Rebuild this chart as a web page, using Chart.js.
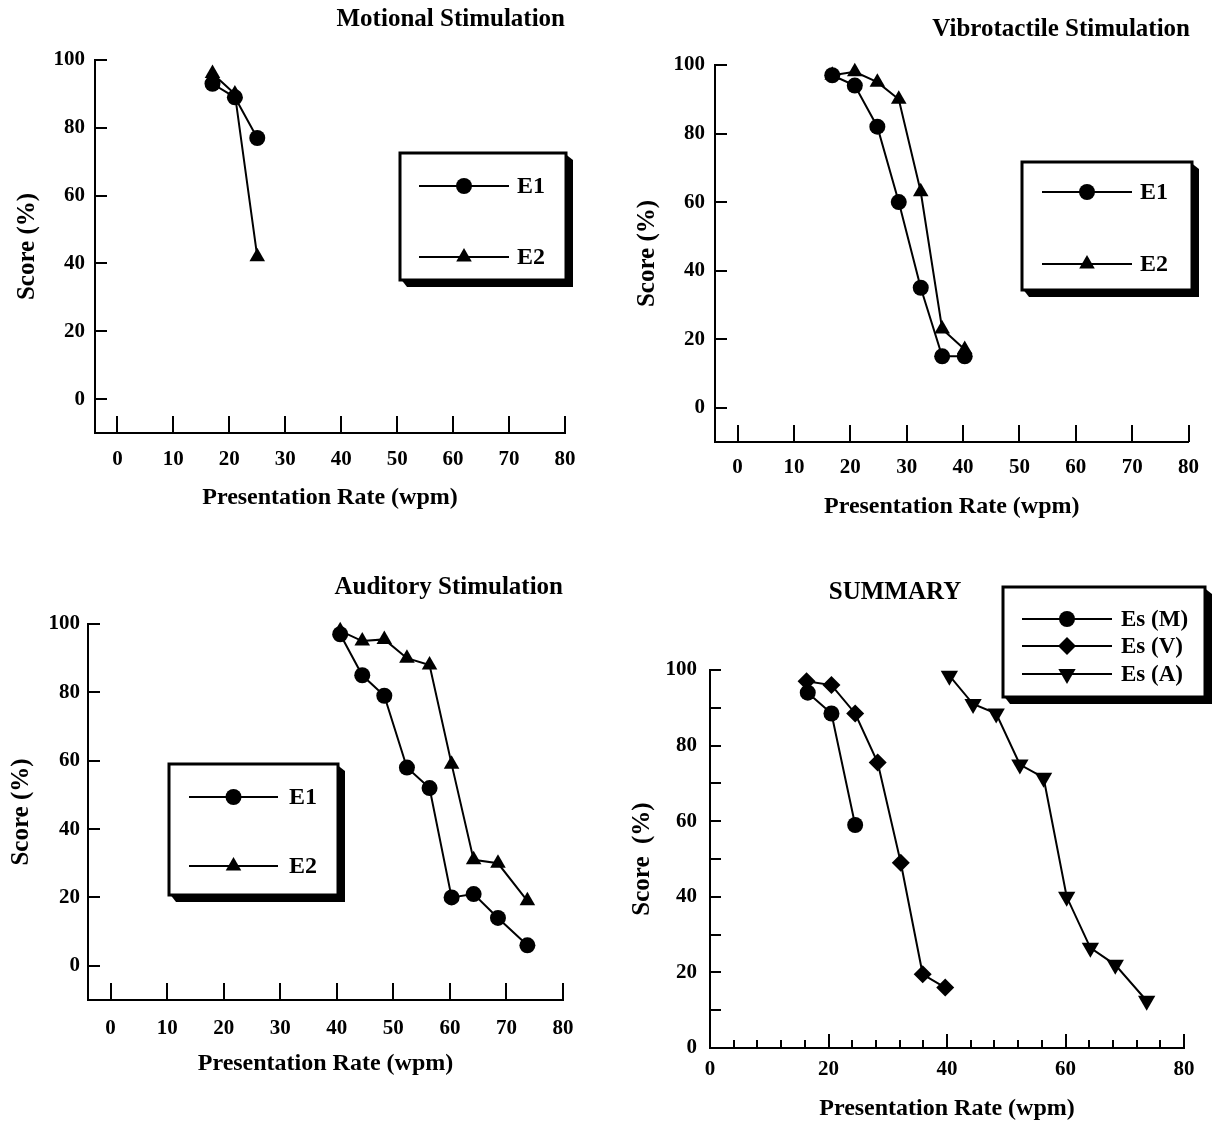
<!DOCTYPE html>
<html>
<head>
<meta charset="utf-8">
<script src="https://cdn.jsdelivr.net/npm/chart.js@4.4.1/dist/chart.umd.min.js"></script>
<style>
  html, body { margin: 0; padding: 0; background: #fff; }
  #wrap { position: relative; width: 1212px; height: 1125px; }
  canvas { position: absolute; }
</style>
</head>
<body>
<div id="wrap">
  <canvas id="c1" width="606" height="560" style="left:0;top:0"></canvas>
  <canvas id="c2" width="606" height="560" style="left:606px;top:0"></canvas>
  <canvas id="c3" width="606" height="565" style="left:0;top:560px"></canvas>
  <canvas id="c4" width="606" height="565" style="left:606px;top:560px"></canvas>
</div>
<script>
// ---- data ----
const motionalRate = [17, 21, 25];
const motionalE1 = [93, 89, 77];
const motionalE2 = [96, 90, 42];

const vibroRate = [16.8, 20.8, 24.8, 28.6, 32.5, 36.3, 40.3];
const vibroE1 = [97, 94, 82, 60, 35, 15, 15];
const vibroE2 = [97, 98, 95, 90, 63, 23, 17];

const auditoryRate = [40.6, 44.5, 48.4, 52.4, 56.4, 60.3, 64.2, 68.5, 73.7];
const auditoryE1 = [97, 85, 79, 58, 52, 20, 21, 14, 6];
const auditoryE2 = [98, 95, 95.5, 90, 88, 59, 31, 30, 19];

const summaryRateM = [16.5, 20.5, 24.5];
const summaryM = [94, 88.5, 59];
const summaryRateV = [16.3, 20.5, 24.5, 28.3, 32.2, 35.9, 39.7];
const summaryV = [97, 96, 88.5, 75.5, 49, 19.5, 16];
const summaryRateA = [40.4, 44.4, 48.3, 52.3, 56.3, 60.2, 64.2, 68.4, 73.7];
const summaryA = [98.5, 91, 88.5, 75, 71.5, 40, 26.5, 22, 12.5];

const scoreTicks = [0, 20, 40, 60, 80, 100];
const rateTicks = [0, 10, 20, 30, 40, 50, 60, 70, 80];
const summaryScoreTicks = [0, 10, 20, 30, 40, 50, 60, 70, 80, 90, 100];
const summaryRateTicks = [0, 4, 8, 12, 16, 20, 24, 28, 32, 36, 40, 44, 48, 52, 56, 60, 64, 68, 72, 76, 80];

const serif = '"Liberation Serif", "Times New Roman", serif';
Chart.defaults.font.family = serif;
Chart.defaults.font.weight = 'bold';
Chart.defaults.color = '#000';

function pts(xs, ys) {
  return xs.map((x, i) => ({x: x, y: ys[i]}));
}

function series(label, xs, ys, style, radius, rot) {
  return {
    label: label,
    data: pts(xs, ys),
    borderColor: '#000',
    backgroundColor: '#000',
    pointBackgroundColor: '#000',
    pointBorderColor: '#000',
    borderWidth: 2,
    pointBorderWidth: 0,
    pointRadius: radius,
    pointStyle: style,
    pointRotation: rot || 0,
    tension: 0,
    clip: false
  };
}

// tick marks pointing into the plot, like the original
const inwardTicks = {
  id: 'inwardTicks',
  afterDraw(chart, args, o) {
    const ctx = chart.ctx, a = chart.chartArea;
    const xs = chart.scales.x, ys = chart.scales.y;
    ctx.save();
    ctx.strokeStyle = '#000';
    ctx.lineWidth = 2;
    ctx.beginPath();
    xs.ticks.forEach(t => {
      const px = Math.round(xs.getPixelForValue(t.value));
      const len = (o.xMajor && t.value % o.xMajor !== 0) ? o.xMinorLen : o.xLen;
      ctx.moveTo(px, a.bottom);
      ctx.lineTo(px, a.bottom - len);
    });
    ys.ticks.forEach(t => {
      const py = Math.round(ys.getPixelForValue(t.value));
      ctx.moveTo(a.left, py);
      ctx.lineTo(a.left + o.yLen, py);
    });
    ctx.stroke();
    ctx.restore();
  }
};

// framed legend with a drop shadow
const boxLegend = {
  id: 'boxLegend',
  afterDraw(chart, args, o) {
    if (!o.box) return;
    const ctx = chart.ctx;
    const [x1, y1, x2, y2] = o.box;
    const s = 7;
    ctx.save();
    ctx.fillStyle = '#000';
    ctx.beginPath();
    ctx.moveTo(x2 - 2, y1);
    ctx.lineTo(x2 + s, y1 + s);
    ctx.lineTo(x2 + s, y2 + s);
    ctx.lineTo(x1 + s, y2 + s);
    ctx.lineTo(x1, y2 - 2);
    ctx.closePath();
    ctx.fill();
    ctx.fillStyle = '#fff';
    ctx.fillRect(x1, y1, x2 - x1, y2 - y1);
    ctx.lineWidth = 3;
    ctx.strokeStyle = '#000';
    ctx.strokeRect(x1, y1, x2 - x1, y2 - y1);
    chart.data.datasets.forEach((ds, i) => {
      const y = o.rows[i];
      ctx.lineWidth = 2;
      ctx.beginPath();
      ctx.moveTo(o.lineX[0], y);
      ctx.lineTo(o.lineX[1], y);
      ctx.stroke();
      ctx.fillStyle = '#000';
      Chart.helpers.drawPoint(ctx, {
        pointStyle: ds.pointStyle, rotation: ds.pointRotation || 0,
        radius: ds.pointRadius, borderWidth: 0
      }, (o.lineX[0] + o.lineX[1]) / 2, y);
      ctx.font = 'bold ' + (o.fontSize || 24) + 'px ' + serif;
      ctx.textBaseline = 'middle';
      ctx.textAlign = 'left';
      ctx.fillText(ds.label, o.textX, y + 1);
    });
    ctx.restore();
  }
};

function makeChart(id, p) {
  return new Chart(document.getElementById(id).getContext('2d'), {
    type: 'line',
    data: {datasets: p.datasets},
    plugins: [inwardTicks, boxLegend],
    options: {
      responsive: false,
      animation: false,
      layout: {padding: {left: 0, top: 0, right: p.padRight, bottom: 0}},
      plugins: {
        legend: {display: false},
        tooltip: {enabled: false},
        title: {
          display: true,
          text: p.title,
          align: p.titleAlign,
          font: {size: 25, weight: 'bold'},
          padding: {top: p.titlePad[0], bottom: p.titlePad[1]}
        },
        inwardTicks: p.ticks,
        boxLegend: p.legend
      },
      scales: {
        x: {
          type: 'linear',
          min: p.xMin, max: 80,
          afterFit: s => { s.height = p.xHeight; },
          afterBuildTicks: s => { s.ticks = p.xTicks.map(v => ({value: v})); },
          grid: {display: false, drawTicks: false},
          border: {display: true, color: '#000', width: 2},
          ticks: {
            autoSkip: false, maxRotation: 0, padding: p.xLabelPad,
            font: {size: 21, weight: 'bold'},
            callback: v => (p.xLabelEvery && v % p.xLabelEvery !== 0) ? '' : String(v)
          },
          title: {
            display: true, text: 'Presentation Rate (wpm)',
            font: {size: 24, weight: 'bold'},
            padding: {top: 0, bottom: p.xTitlePad}
          }
        },
        y: {
          type: 'linear',
          min: p.yMin, max: 100,
          afterFit: s => { s.width = p.yWidth; },
          afterBuildTicks: s => { s.ticks = p.yTicks.map(v => ({value: v})); },
          grid: {display: false, drawTicks: false},
          border: {display: true, color: '#000', width: 2},
          ticks: {
            autoSkip: false, padding: p.yLabelPad,
            font: {size: 21, weight: 'bold'},
            callback: v => (p.yLabelEvery && v % p.yLabelEvery !== 0) ? '' : String(v)
          },
          title: {
            display: true, text: p.yTitle || 'Score (%)',
            font: {size: 25, weight: 'bold'},
            padding: {top: p.yTitlePad, bottom: 0}
          }
        }
      }
    }
  });
}

makeChart('c1', {
  title: 'Motional Stimulation', titleAlign: 'end', titlePad: [5, 25], padRight: 41,
  xMin: -4, yMin: -10, xTicks: rateTicks, yTicks: scoreTicks,
  xHeight: 127, xLabelPad: 14, xTitlePad: 48,
  yWidth: 95, yLabelPad: 10, yTitlePad: 13,
  ticks: {xLen: 17, yLen: 12},
  legend: {box: [400, 153, 566, 280], rows: [186, 257], lineX: [419, 509], textX: 517},
  datasets: [
    series('E1', motionalRate, motionalE1, 'circle', 8),
    series('E2', motionalRate, motionalE2, 'triangle', 9)
  ]
});

makeChart('c2', {
  title: 'Vibrotactile Stimulation', titleAlign: 'end', titlePad: [15, 20], padRight: 22,
  xMin: -4, yMin: -10, xTicks: rateTicks, yTicks: scoreTicks,
  xHeight: 118, xLabelPad: 13, xTitlePad: 39,
  yWidth: 109, yLabelPad: 10, yTitlePad: 27,
  ticks: {xLen: 17, yLen: 12},
  legend: {box: [416, 162, 586, 290], rows: [192, 264], lineX: [436, 526], textX: 534},
  datasets: [
    series('E1', vibroRate, vibroE1, 'circle', 8),
    series('E2', vibroRate, vibroE2, 'triangle', 9)
  ]
});

makeChart('c3', {
  title: 'Auditory Stimulation', titleAlign: 'end', titlePad: [13, 21], padRight: 43,
  xMin: -4, yMin: -10, xTicks: rateTicks, yTicks: scoreTicks,
  xHeight: 125, xLabelPad: 16, xTitlePad: 47,
  yWidth: 88, yLabelPad: 8, yTitlePad: 7,
  ticks: {xLen: 17, yLen: 12},
  legend: {box: [169, 204, 338, 335], rows: [237, 306], lineX: [189, 278], textX: 289},
  datasets: [
    series('E1', auditoryRate, auditoryE1, 'circle', 8),
    series('E2', auditoryRate, auditoryE2, 'triangle', 9)
  ]
});

makeChart('c4', {
  title: 'SUMMARY', titleAlign: 'center', titlePad: [18, 62], padRight: 28,
  xMin: 0, yMin: 0, xTicks: summaryRateTicks, yTicks: summaryScoreTicks,
  xLabelEvery: 20, yLabelEvery: 20,
  xHeight: 77, xLabelPad: 9, xTitlePad: 2,
  yWidth: 104, yLabelPad: 13, yTitlePad: 22, yTitle: 'Score  (%)',
  ticks: {xLen: 14, xMinorLen: 8, xMajor: 20, yLen: 11},
  legend: {box: [397, 27, 599, 137], rows: [59, 86, 114], lineX: [416, 506], textX: 515, fontSize: 23},
  datasets: [
    series('Es (M)', summaryRateM, summaryM, 'circle', 8),
    series('Es (V)', summaryRateV, summaryV, 'rectRot', 9),
    series('Es (A)', summaryRateA, summaryA, 'triangle', 10, 180)
  ]
});
</script>
</body>
</html>
